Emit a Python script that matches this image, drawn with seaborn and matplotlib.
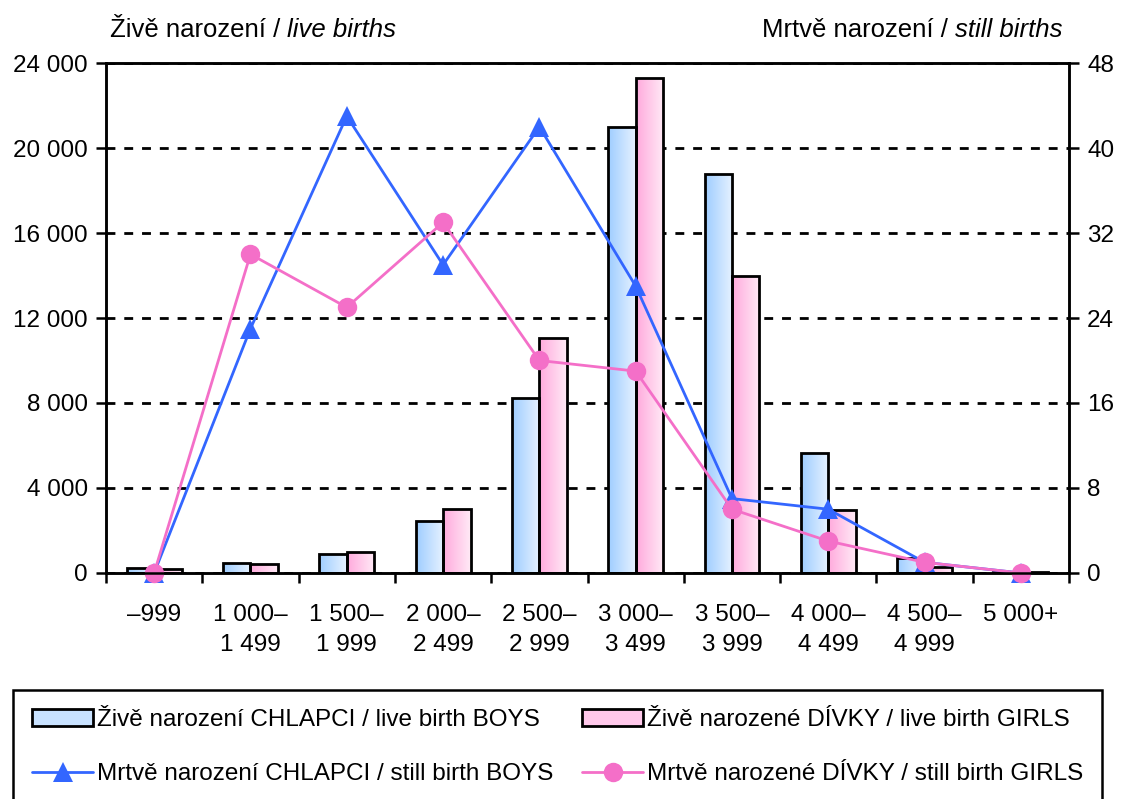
import numpy as np
import pandas as pd
import matplotlib
matplotlib.use("Agg")
import matplotlib.pyplot as plt
import seaborn as sns
from matplotlib.colors import LinearSegmentedColormap
from matplotlib.patches import Patch
from matplotlib.lines import Line2D

# weight groups (g)
categories = ["–999", "1 000–\n1 499", "1 500–\n1 999", "2 000–\n2 499", "2 500–\n2 999",
              "3 000–\n3 499", "3 500–\n3 999", "4 000–\n4 499", "4 500–\n4 999", "5 000+"]

live_boys = [250, 470, 890, 2450, 8230, 21000, 18800, 5650, 700, 50]
live_girls = [200, 400, 990, 3000, 11050, 23300, 13970, 2960, 280, 50]
still_boys = [0, 23, 43, 29, 42, 27, 7, 6, 1, 0]
still_girls = [0, 30, 25, 33, 20, 19, 6, 3, 1, 0]

left_ticks = [0, 4000, 8000, 12000, 16000, 20000, 24000]
right_ticks = [0, 8, 16, 24, 32, 40, 48]

lab_live_boys = "Živě narození CHLAPCI / live birth BOYS"
lab_live_girls = "Živě narozené DÍVKY / live birth GIRLS"
lab_still_boys = "Mrtvě narození CHLAPCI / still birth BOYS"
lab_still_girls = "Mrtvě narozené DÍVKY / still birth GIRLS"

blue_line = "#3366FF"
pink_line = "#F46FC8"
blue_grad = ["#9FCDFF", "#E6F2FF"]
pink_grad = ["#FFAADD", "#FFEAF6"]

sns.set_theme(style="white")
plt.rcParams["font.family"] = ["Liberation Sans", "DejaVu Sans"]
plt.rcParams["font.size"] = 17.5
for k in ["text.color", "axes.labelcolor", "xtick.color", "ytick.color"]:
    plt.rcParams[k] = "black"

fig = plt.figure(figsize=(11.29, 7.99), dpi=100)
ax = fig.add_axes([0.0939, 0.2829, 0.853, 0.6382])

df = pd.DataFrame({
    "cat": categories * 2,
    "value": live_boys + live_girls,
    "series": [lab_live_boys] * len(categories) + [lab_live_girls] * len(categories),
})

sns.barplot(
    data=df, x="cat", y="value", hue="series",
    palette=[blue_grad[0], pink_grad[0]],
    width=0.57, edgecolor="black", linewidth=2,
    legend=False, ax=ax, zorder=2
)

# gradient fill inside bars
grad = np.linspace(0, 1, 64).reshape(1, -1)
for cont, cols in zip(ax.containers, [blue_grad, pink_grad]):
    cmap = LinearSegmentedColormap.from_list("g", cols)
    for p in cont.patches:
        x0, w, h = p.get_x(), p.get_width(), p.get_height()
        p.set_facecolor("none")
        p.set_zorder(2)
        im = ax.imshow(grad, extent=[x0, x0 + w, 0, h], aspect="auto",
                       cmap=cmap, zorder=1.5, interpolation="bilinear")
        im.set_clip_path(p)
ax.set_ylim(0, 24000)
ax.set_xlim(-0.5, len(categories) - 0.5)

ax.set_yticks(left_ticks)
ax.set_yticklabels([f"{v:,.0f}".replace(",", " ") for v in left_ticks])
ax.yaxis.grid(True, color="black", linestyle=(0, (3.2, 3.2)), linewidth=2)
ax.set_axisbelow(True)

ax.set_xticks(np.arange(len(categories) + 1) - 0.5)
ax.set_xticklabels([])
ax.set_xticks(np.arange(len(categories)), minor=True)
ax.set_xticklabels(categories, minor=True, linespacing=1.5)
ax.tick_params(axis="x", which="major", direction="out", length=7, width=1.8, bottom=True)
ax.tick_params(axis="x", which="minor", length=0, pad=22, labelsize=17.5)
ax.tick_params(axis="y", direction="out", length=7, width=1.8, left=True, labelsize=17.5, pad=6)
ax.set_xlabel("")
ax.set_ylabel("")

for s in ax.spines.values():
    s.set_color("black")
    s.set_linewidth(1.8)

ax2 = ax.twinx()
pos = np.arange(len(categories))
sns.lineplot(x=pos, y=still_boys, ax=ax2, color=blue_line, marker="^",
             markersize=14, markeredgewidth=0, linewidth=2, clip_on=False)
sns.lineplot(x=pos, y=still_girls, ax=ax2, color=pink_line, marker="o",
             markersize=14, markeredgewidth=0, linewidth=2, clip_on=False)
ax2.set_ylim(0, 48)
ax2.set_yticks(right_ticks)
ax2.set_yticklabels([str(v) for v in right_ticks])
ax2.tick_params(axis="y", direction="out", length=7, width=1.8, right=True, labelsize=17.5, pad=6)
ax2.set_ylabel("")
ax2.set_xlim(-0.5, len(categories) - 0.5)
for s in ax2.spines.values():
    s.set_color("black")
    s.set_linewidth(1.8)
ax2.grid(False)

# headers with italic part
fig.canvas.draw()
r = fig.canvas.get_renderer()
t1 = fig.text(0.0974, 0.9537, "Živě narození / ", fontsize=18.5, va="baseline", ha="left")
bb = t1.get_window_extent(r)
fig.text(bb.x1 / fig.bbox.width, 0.9537, "live births", fontsize=18.5,
         style="italic", va="baseline", ha="left")
t3 = fig.text(0.9407, 0.9537, "still births", fontsize=18.5, style="italic",
              va="baseline", ha="right")
bb = t3.get_window_extent(r)
fig.text(bb.x0 / fig.bbox.width, 0.9537, "Mrtvě narození / ", fontsize=18.5,
         va="baseline", ha="right")

handles = [
    Patch(facecolor="#C8E2FF", edgecolor="black", linewidth=2),
    Line2D([], [], color=blue_line, marker="^", markersize=14, markeredgewidth=0, linewidth=2),
    Patch(facecolor="#FFC8EA", edgecolor="black", linewidth=2),
    Line2D([], [], color=pink_line, marker="o", markersize=14, markeredgewidth=0, linewidth=2),
]
labels = [lab_live_boys, lab_still_boys, lab_live_girls, lab_still_girls]
leg = fig.legend(handles, labels, loc="upper left", ncols=2,
                 bbox_to_anchor=(0.0115, 0.0, 0.965, 0.1364), mode="expand",
                 borderaxespad=0, fontsize=17.5, handlelength=2.5, handletextpad=0.15,
                 labelspacing=1.3, borderpad=0.8, numpoints=1,
                 fancybox=False, framealpha=1, edgecolor="black")
leg.get_frame().set_linewidth(1.8)

fig.savefig("out.png", dpi=100)
